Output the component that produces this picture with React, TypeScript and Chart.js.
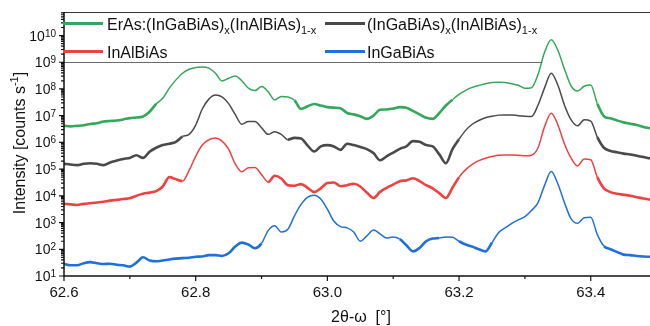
import React, { useEffect, useRef } from "react";
import { Chart, registerables } from "chart.js";

Chart.register(...registerables);

// 2θ-ω positions (degrees)
const twoTheta = [
  62.60, 62.61, 62.62, 62.63, 62.64, 62.65, 62.66, 62.67, 62.68, 62.69,
  62.70, 62.71, 62.72, 62.73, 62.74, 62.75, 62.76, 62.77, 62.78, 62.79,
  62.80, 62.81, 62.82, 62.83, 62.84, 62.85, 62.86, 62.87, 62.88, 62.89,
  62.90, 62.91, 62.92, 62.93, 62.94, 62.95, 62.96, 62.97, 62.98, 62.99,
  63.00, 63.01, 63.02, 63.03, 63.04, 63.05, 63.06, 63.07, 63.08, 63.09,
  63.10, 63.11, 63.12, 63.13, 63.14, 63.15, 63.16, 63.17, 63.18, 63.19,
  63.20, 63.21, 63.22, 63.23, 63.24, 63.25, 63.26, 63.27, 63.28, 63.29,
  63.30, 63.31, 63.32, 63.33, 63.34, 63.35, 63.36, 63.37, 63.38, 63.39,
  63.40, 63.41, 63.42, 63.43, 63.44, 63.45, 63.46, 63.47, 63.48, 63.49,
];

// ErAs:(InGaBiAs)x(InAlBiAs)1-x  (counts/s)
const erAsSeries = [
  4.17e6, 3.98e6, 4.17e6, 4.37e6, 4.90e6, 5.25e6, 6.03e6, 6.31e6, 6.61e6, 7.24e6,
  8.13e6, 8.51e6, 9.33e6, 1.41e7, 2.75e7, 4.47e7, 1.07e8, 2.19e8, 3.89e8, 5.50e8,
  6.31e8, 6.61e8, 6.03e8, 3.89e8, 2.00e8, 2.51e8, 3.09e8, 2.04e8, 1.07e8, 8.71e7,
  1.23e8, 7.94e7, 3.89e7, 5.25e7, 5.01e7, 3.80e7, 1.78e7, 2.24e7, 2.75e7, 2.40e7,
  2.09e7, 2.00e7, 1.91e7, 1.26e7, 1.12e7, 9.55e6, 7.59e6, 1.00e7, 1.66e7, 1.70e7,
  1.86e7, 2.09e7, 2.00e7, 1.51e7, 1.12e7, 8.32e6, 7.59e6, 1.26e7, 2.40e7, 3.98e7,
  6.31e7, 8.91e7, 1.15e8, 1.35e8, 1.58e8, 1.74e8, 1.78e8, 1.74e8, 1.58e8, 1.38e8,
  1.07e8, 1.12e8, 3.55e8, 2.40e9, 6.92e9, 2.82e9, 5.62e8, 1.32e8, 8.32e7, 1.26e8,
  1.41e8, 2.82e7, 9.55e6, 7.94e6, 6.61e6, 5.62e6, 5.01e6, 4.47e6, 3.80e6, 3.39e6,
];

// (InGaBiAs)x(InAlBiAs)1-x
const superlatticeSeries = [
  1.58e5, 1.48e5, 1.41e5, 1.58e5, 1.66e5, 1.58e5, 1.41e5, 1.78e5, 2.09e5, 2.40e5,
  2.63e5, 3.31e5, 2.63e5, 4.47e5, 6.31e5, 7.94e5, 8.91e5, 1.05e6, 1.66e6, 2.00e6,
  4.47e6, 1.78e7, 4.17e7, 5.89e7, 5.01e7, 2.82e7, 1.12e7, 4.79e6, 6.03e6, 6.03e6,
  3.55e6, 2.00e6, 2.51e6, 2.00e6, 1.26e6, 1.48e6, 1.41e6, 7.59e5, 4.57e5, 7.08e5,
  7.94e5, 7.08e5, 5.25e5, 8.91e5, 7.94e5, 6.76e5, 5.62e5, 3.98e5, 2.14e5, 3.02e5,
  4.17e5, 5.75e5, 7.08e5, 1.12e6, 1.05e6, 7.94e5, 7.08e5, 3.55e5, 1.66e5, 5.62e5,
  1.32e6, 2.82e6, 4.79e6, 6.61e6, 8.32e6, 9.55e6, 1.05e7, 1.07e7, 1.07e7, 1.00e7,
  9.55e6, 9.33e6, 2.51e7, 1.12e8, 3.89e8, 1.41e8, 2.51e7, 7.08e6, 4.17e6, 7.08e6,
  6.31e6, 1.58e6, 6.31e5, 4.79e5, 4.27e5, 3.80e5, 3.55e5, 3.16e5, 2.82e5, 2.51e5,
];

// InAlBiAs
const inAlBiAsSeries = [
  5.01e3, 4.79e3, 4.57e3, 5.01e3, 5.25e3, 5.62e3, 6.03e3, 6.61e3, 7.08e3, 7.59e3,
  8.13e3, 1.00e4, 1.20e4, 1.32e4, 1.51e4, 2.24e4, 5.01e4, 4.17e4, 3.55e4, 8.91e4,
  3.02e5, 7.94e5, 1.26e6, 1.45e6, 1.12e6, 5.62e5, 1.58e5, 7.94e4, 1.12e5, 1.15e5,
  6.31e4, 3.31e4, 5.62e4, 4.47e4, 2.51e4, 2.40e4, 2.75e4, 2.00e4, 1.38e4, 1.91e4,
  3.02e4, 3.16e4, 2.29e4, 2.51e4, 2.82e4, 2.24e4, 1.32e4, 8.32e3, 1.41e4, 2.00e4,
  2.63e4, 3.55e4, 3.80e4, 4.57e4, 3.55e4, 2.51e4, 1.91e4, 1.26e4, 8.32e3, 2.00e4,
  5.01e4, 9.55e4, 1.51e5, 2.09e5, 2.57e5, 2.95e5, 3.31e5, 3.39e5, 3.39e5, 3.31e5,
  3.16e5, 3.31e5, 6.31e5, 3.98e6, 1.23e7, 4.57e6, 8.91e5, 2.63e5, 1.32e5, 2.40e5,
  2.24e5, 5.01e4, 1.91e4, 1.38e4, 1.20e4, 1.10e4, 1.00e4, 8.91e3, 7.94e3, 7.24e3,
];

// InGaBiAs
const inGaBiAsSeries = [
  28.2, 25.1, 25.1, 30.2, 33.0, 30.2, 28.2, 28.8, 26.3, 25.1,
  22.4, 31.6, 50.0, 38.0, 35.5, 38.0, 41.7, 44.7, 46.8, 47.9,
  52.5, 53.7, 60.3, 60.3, 56.2, 70.8, 126, 178, 151, 110,
  166, 501, 759, 447, 562, 1780, 4790, 8910, 10500, 7590,
  3160, 1120, 708, 631, 447, 200, 316, 525, 380, 263,
  288, 240, 141, 83.2, 112, 200, 251, 263, 288, 282,
  200, 151, 126, 100, 83.2, 178, 417, 631, 933, 1260,
  1660, 2820, 5620, 25100, 81300, 28200, 5620, 1410, 933, 1510,
  1580, 355, 132, 100, 79.4, 63.1, 60.3, 56.2, 53.7, 52.5,
];

const seriesColors = ["#34a85a", "#4a4a4a", "#ee4242", "#1f6fdf"];

const xMajorTicks = [62.6, 62.8, 63.0, 63.2, 63.4];
const xTickLabels = ["62.6", "62.8", "63.0", "63.2", "63.4"];
const xMinorTicks = [62.7, 62.9, 63.1, 63.3];
const yDecadeExponents = [1, 2, 3, 4, 5, 6, 7, 8, 9, 10];

const FONT = '"Liberation Sans", Arial, Helvetica, sans-serif';

type Part = { t: string; k?: "sub" | "sup" };

function drawRich(ctx: CanvasRenderingContext2D, parts: Part[], x: number, y: number, size: number) {
  let cx = x;
  for (const p of parts) {
    const s = p.k ? Math.round(size * 0.68) : size;
    ctx.font = `${s}px ${FONT}`;
    const dy = p.k === "sub" ? size * 0.28 : p.k === "sup" ? -size * 0.42 : 0;
    ctx.fillText(p.t, cx, y + dy);
    cx += ctx.measureText(p.t).width;
  }
  return cx - x;
}

function measureRich(ctx: CanvasRenderingContext2D, parts: Part[], size: number) {
  let w = 0;
  for (const p of parts) {
    const s = p.k ? Math.round(size * 0.68) : size;
    ctx.font = `${s}px ${FONT}`;
    w += ctx.measureText(p.t).width;
  }
  return w;
}

const decorPlugin = {
  id: "decor",
  afterDatasetsDraw(chart: any) {
    const ctx: CanvasRenderingContext2D = chart.ctx;
    const xs = chart.scales.x;
    const ys = chart.scales.y;
    const area = chart.chartArea;
    ctx.save();

    // legend box bottom line at 1e9
    const y9 = ys.getPixelForValue(1e9);
    ctx.strokeStyle = "#6a6a6a";
    ctx.lineWidth = 1;
    ctx.beginPath();
    ctx.moveTo(area.left, Math.round(y9) + 0.5);
    ctx.lineTo(xs.getPixelForValue(63.3265), Math.round(y9) + 0.5);
    ctx.stroke();

    // top border
    ctx.strokeStyle = "#333";
    ctx.beginPath();
    ctx.moveTo(area.left, area.top + 0.5);
    ctx.lineTo(area.right, area.top + 0.5);
    ctx.stroke();

    // axes
    ctx.strokeStyle = "#111";
    ctx.lineWidth = 1.5;
    ctx.beginPath();
    ctx.moveTo(area.left, area.top);
    ctx.lineTo(area.left, area.bottom);
    ctx.lineTo(area.right, area.bottom);
    ctx.stroke();

    // x ticks
    ctx.lineWidth = 1.2;
    ctx.beginPath();
    for (const v of xMajorTicks) {
      const px = xs.getPixelForValue(v);
      ctx.moveTo(px, area.bottom);
      ctx.lineTo(px, area.bottom + 5);
    }
    for (const v of xMinorTicks) {
      const px = xs.getPixelForValue(v);
      ctx.moveTo(px, area.bottom);
      ctx.lineTo(px, area.bottom + 3);
    }
    ctx.stroke();

    // y ticks
    ctx.beginPath();
    for (const e of yDecadeExponents) {
      const base = Math.pow(10, e);
      const py = ys.getPixelForValue(base);
      ctx.moveTo(area.left, py);
      ctx.lineTo(area.left - 5, py);
      for (let m = 2; m <= 9; m++) {
        const v = m * base;
        if (v > ys.max) break;
        const pm = ys.getPixelForValue(v);
        ctx.moveTo(area.left, pm);
        ctx.lineTo(area.left - 3, pm);
      }
    }
    ctx.stroke();

    ctx.fillStyle = "#111";
    ctx.textBaseline = "alphabetic";

    // x labels
    ctx.font = `15px ${FONT}`;
    ctx.textAlign = "center";
    xMajorTicks.forEach((v, i) => {
      ctx.fillText(xTickLabels[i], xs.getPixelForValue(v), area.bottom + 21);
    });

    // y labels
    ctx.textAlign = "left";
    for (const e of yDecadeExponents) {
      const py = ys.getPixelForValue(Math.pow(10, e));
      ctx.font = `14px ${FONT}`;
      const bw = ctx.measureText("10").width;
      ctx.font = `10px ${FONT}`;
      const sw = ctx.measureText(String(e)).width;
      const x0 = area.left - 8 - sw - bw;
      ctx.font = `14px ${FONT}`;
      ctx.fillText("10", x0, py + 5);
      ctx.font = `10px ${FONT}`;
      ctx.fillText(String(e), x0 + bw, py + 1);
    }

    // x title
    ctx.font = `16px ${FONT}`;
    ctx.textAlign = "center";
    ctx.fillText("2θ-ω  [°]", 361, 322);

    // y title
    ctx.save();
    ctx.translate(25, 143);
    ctx.rotate(-Math.PI / 2);
    ctx.textAlign = "left";
    const yTitle: Part[] = [{ t: "Intensity [counts s" }, { t: "-1", k: "sup" }, { t: "]" }];
    const tw = measureRich(ctx, yTitle, 16);
    drawRich(ctx, yTitle, -tw / 2, 0, 16);
    ctx.restore();

    // legend
    ctx.textAlign = "left";
    const legendItems: Array<{ color: string; x: number; y: number; tx: number; ty: number; parts: Part[] }> = [
      { color: seriesColors[0], x: 63, y: 23.5, tx: 107, ty: 30, parts: [{ t: "ErAs:(InGaBiAs)" }, { t: "x", k: "sub" }, { t: "(InAlBiAs)" }, { t: "1-x", k: "sub" }] },
      { color: seriesColors[1], x: 325, y: 23.5, tx: 367, ty: 30, parts: [{ t: "(InGaBiAs)" }, { t: "x", k: "sub" }, { t: "(InAlBiAs)" }, { t: "1-x", k: "sub" }] },
      { color: seriesColors[2], x: 63, y: 51.5, tx: 107, ty: 58, parts: [{ t: "InAlBiAs" }] },
      { color: seriesColors[3], x: 325, y: 51.5, tx: 367, ty: 58, parts: [{ t: "InGaBiAs" }] },
    ];
    for (const it of legendItems) {
      ctx.strokeStyle = it.color;
      ctx.lineWidth = 3;
      ctx.beginPath();
      ctx.moveTo(it.x, it.y);
      ctx.lineTo(it.x + 40, it.y);
      ctx.stroke();
      ctx.fillStyle = "#111";
      drawRich(ctx, it.parts, it.tx, it.ty, 16);
    }

    ctx.restore();
  },
};

export default function App() {
  const canvasRef = useRef<HTMLCanvasElement | null>(null);

  useEffect(() => {
    if (!canvasRef.current) return;
    const mk = (label: string, values: number[], color: string) => {
      // low-count (noisy) stretches are drawn a little thicker
      const threshold = Math.min(...values) * Math.pow(10, 1.1);
      return {
        label,
        data: values.map((v, i) => ({ x: twoTheta[i], y: v })),
        borderColor: color,
        backgroundColor: color,
        borderWidth: 1.5,
        pointRadius: 0,
        cubicInterpolationMode: "monotone" as const,
        fill: false,
        segment: {
          borderWidth: (c: any) => (c.p0.parsed.y < threshold && c.p1.parsed.y < threshold ? 2.6 : 1.5),
        },
      };
    };
    const chart = new Chart(canvasRef.current, {
      type: "line",
      data: {
        datasets: [
          mk("ErAs:(InGaBiAs)x(InAlBiAs)1-x", erAsSeries, seriesColors[0]),
          mk("(InGaBiAs)x(InAlBiAs)1-x", superlatticeSeries, seriesColors[1]),
          mk("InAlBiAs", inAlBiAsSeries, seriesColors[2]),
          mk("InGaBiAs", inGaBiAsSeries, seriesColors[3]),
        ],
      },
      options: {
        responsive: false,
        animation: false,
        devicePixelRatio: 1,
        events: [],
        layout: { padding: { left: 64, top: 12, right: 0, bottom: 50 } },
        plugins: { legend: { display: false }, tooltip: { enabled: false } },
        scales: {
          x: { type: "linear", min: 62.6, max: 63.49, display: false },
          y: { type: "logarithmic", min: 10, max: 7.6e10, display: false },
        },
      },
      plugins: [decorPlugin],
    });
    return () => chart.destroy();
  }, []);

  return (
    <div style={{ position: "absolute", left: 0, top: 0, width: 650, height: 326, background: "#fff" }}>
      <canvas ref={canvasRef} width={650} height={326} style={{ display: "block", width: 650, height: 326 }} />
    </div>
  );
}
